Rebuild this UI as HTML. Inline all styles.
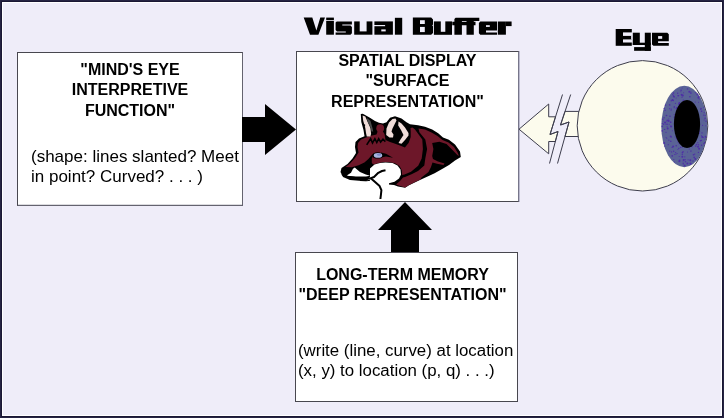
<!DOCTYPE html>
<html><head><meta charset="utf-8">
<style>
html,body{margin:0;padding:0;}
body{width:724px;height:418px;overflow:hidden;position:relative;background:#262443;font-family:"Liberation Sans",sans-serif;}
#frame{position:absolute;left:1px;top:1px;width:722px;height:416px;background:#1a1734;}
#white{position:absolute;left:2px;top:2px;width:720px;height:414px;background:#ffffff;}
#bg{position:absolute;left:3px;top:3px;width:718px;height:412px;background:#efedf9;}
.box{position:absolute;background:#fff;border:1px solid #48474f;box-sizing:border-box;}
.t{position:absolute;white-space:pre;color:#000;line-height:20.3px;will-change:transform;}
.b{font-weight:bold;font-size:16px;text-align:center;line-height:20.3px;}
.r{font-size:17px;line-height:20.3px;}
svg{position:absolute;left:0;top:0;}
</style></head>
<body>
<div id="frame"></div><div id="white"></div><div id="bg"></div>

<div class="box" style="left:17px;top:52px;width:226px;height:154px;border-right-color:#64636f;border-bottom-color:#64636f;box-shadow:0 -0.5px 0 #b8b8c0 inset;"></div>
<div class="box" style="left:296px;top:51px;width:223px;height:151px;border-right-color:#77768a;box-shadow:1px 0 0 #bcbbd0;"></div>
<div class="box" style="left:295px;top:252px;width:223px;height:150px;"></div>

<!-- left box text -->
<div class="t b" style="left:17px;top:60px;width:226px;">"MIND'S EYE
INTERPRETIVE
FUNCTION"</div>
<div class="t r" style="left:31px;top:147px;">(shape: lines slanted? Meet
in point? Curved? . . . )</div>

<!-- center box text -->
<div class="t b" style="left:296px;top:51px;width:223px;">SPATIAL DISPLAY
"SURFACE
REPRESENTATION"</div>

<!-- bottom box text -->
<div class="t b" style="left:291px;top:265px;width:223px;">LONG-TERM MEMORY
"DEEP REPRESENTATION"</div>
<div class="t r" style="left:298px;top:341px;font-size:16.85px;">(write (line, curve) at location
(x, y) to location (p, q) . . .)</div>

<svg width="724" height="418" viewBox="0 0 724 418">
  <!-- right arrow -->
  <polygon points="242,117 265,117 265,104 296,129.5 265,155 265,142 242,142" fill="#000"/>
  <!-- up arrow -->
  <polygon points="405,202 432,230 419,230 419,252 391,252 391,230 378,230" fill="#000"/>

  <!-- cream broken arrow -->
  <g fill="#fcfbed" stroke="#3c3c4c" stroke-width="1" stroke-linejoin="miter">
    <polygon points="519,129.2 548.7,104 548.7,116.8 555.5,116.8 550,134.5 558,131.5 555.3,141.5 548.7,141.5 548.7,153.8"/>
    <polygon points="565,111.4 590,111.4 590,136.5 565,136.5 569,122 560.5,125"/>
  </g>
  <path d="M562.5,94.5 L550,134.5 L558,131.5 L549.5,163.5 M570.7,94.5 L560.5,125 L569,122 L557.5,163.5" fill="none" stroke="#3c3c4c" stroke-width="1"/>
  <!-- eyeball -->
  <ellipse cx="642.5" cy="125.8" rx="65.3" ry="65.2" fill="#fcfbed" stroke="#3c3c4c" stroke-width="1"/>
  <clipPath id="eyeclip"><ellipse cx="642.5" cy="125.8" rx="65.3" ry="65.2"/></clipPath>
  <g clip-path="url(#eyeclip)">
    <ellipse cx="684.3" cy="126.5" rx="23" ry="40.7" fill="#5a6396"/>
    <g fill="#4d26aa" opacity="0.85"><circle cx="676.2" cy="98.1" r="0.5"/><circle cx="664.6" cy="129.4" r="0.7"/><circle cx="688.1" cy="159.8" r="0.6"/><circle cx="663.0" cy="121.1" r="0.5"/><circle cx="672.4" cy="130.7" r="0.5"/><circle cx="671.6" cy="136.9" r="0.5"/><circle cx="700.8" cy="109.4" r="0.6"/><circle cx="666.0" cy="132.3" r="0.6"/><circle cx="670.8" cy="141.2" r="0.8"/><circle cx="703.8" cy="115.2" r="0.6"/><circle cx="697.8" cy="142.7" r="0.6"/><circle cx="665.1" cy="110.2" r="0.8"/><circle cx="701.6" cy="145.2" r="0.7"/><circle cx="689.3" cy="91.8" r="1.0"/><circle cx="680.5" cy="147.4" r="0.6"/><circle cx="704.2" cy="120.1" r="0.5"/><circle cx="701.6" cy="111.3" r="0.7"/><circle cx="682.3" cy="154.2" r="0.7"/><circle cx="664.1" cy="142.9" r="1.0"/><circle cx="674.4" cy="117.2" r="0.7"/><circle cx="662.3" cy="123.4" r="0.6"/><circle cx="671.3" cy="109.2" r="0.6"/><circle cx="679.6" cy="160.4" r="0.8"/><circle cx="665.0" cy="122.4" r="1.0"/><circle cx="674.1" cy="96.9" r="0.8"/><circle cx="701.0" cy="108.5" r="0.8"/><circle cx="678.8" cy="104.6" r="0.5"/><circle cx="669.4" cy="104.7" r="0.6"/><circle cx="669.7" cy="108.7" r="0.6"/><circle cx="687.4" cy="163.4" r="1.0"/><circle cx="705.0" cy="139.1" r="0.5"/><circle cx="682.3" cy="156.7" r="1.0"/><circle cx="666.1" cy="137.4" r="0.5"/><circle cx="681.6" cy="94.7" r="1.0"/><circle cx="701.5" cy="135.8" r="0.6"/><circle cx="690.5" cy="163.6" r="1.0"/><circle cx="678.1" cy="95.8" r="0.8"/><circle cx="683.6" cy="92.8" r="0.5"/><circle cx="695.8" cy="146.1" r="0.8"/><circle cx="699.4" cy="98.9" r="0.5"/><circle cx="677.9" cy="142.0" r="0.5"/><circle cx="690.9" cy="93.2" r="0.7"/><circle cx="685.1" cy="159.7" r="0.7"/><circle cx="671.6" cy="151.9" r="0.6"/><circle cx="698.4" cy="152.4" r="0.6"/><circle cx="670.5" cy="125.9" r="0.5"/><circle cx="698.5" cy="144.7" r="0.7"/><circle cx="705.2" cy="115.5" r="0.6"/><circle cx="666.0" cy="124.1" r="0.7"/><circle cx="670.7" cy="136.6" r="1.0"/><circle cx="691.3" cy="150.9" r="0.5"/><circle cx="679.2" cy="143.7" r="0.6"/><circle cx="683.3" cy="100.3" r="0.7"/><circle cx="695.5" cy="92.7" r="0.6"/><circle cx="698.4" cy="97.7" r="1.0"/><circle cx="685.5" cy="161.8" r="0.8"/><circle cx="671.1" cy="126.6" r="1.0"/><circle cx="695.3" cy="158.9" r="1.0"/><circle cx="684.8" cy="156.8" r="0.6"/><circle cx="689.3" cy="149.0" r="0.6"/><circle cx="669.2" cy="124.3" r="0.5"/><circle cx="697.4" cy="94.4" r="1.0"/><circle cx="682.1" cy="88.1" r="0.5"/><circle cx="704.6" cy="142.7" r="0.7"/><circle cx="670.6" cy="122.2" r="0.8"/><circle cx="666.9" cy="121.8" r="0.5"/><circle cx="671.1" cy="110.4" r="0.5"/><circle cx="705.1" cy="118.2" r="0.8"/><circle cx="668.8" cy="140.2" r="0.6"/><circle cx="668.7" cy="120.9" r="1.0"/><circle cx="677.7" cy="93.3" r="0.7"/><circle cx="662.2" cy="130.9" r="0.8"/><circle cx="673.8" cy="159.5" r="0.6"/><circle cx="673.7" cy="96.3" r="0.8"/><circle cx="700.4" cy="140.8" r="0.7"/><circle cx="676.3" cy="108.5" r="0.6"/><circle cx="680.9" cy="91.7" r="0.5"/><circle cx="690.5" cy="151.1" r="0.5"/><circle cx="673.5" cy="95.7" r="0.5"/><circle cx="703.9" cy="107.6" r="0.6"/><circle cx="673.3" cy="100.5" r="0.7"/><circle cx="670.8" cy="122.1" r="0.6"/><circle cx="673.7" cy="151.2" r="0.7"/><circle cx="684.6" cy="165.4" r="1.0"/><circle cx="683.1" cy="161.9" r="0.5"/><circle cx="675.5" cy="103.3" r="0.6"/><circle cx="677.1" cy="153.5" r="0.6"/><circle cx="664.6" cy="146.1" r="0.7"/><circle cx="681.1" cy="90.3" r="0.8"/><circle cx="701.3" cy="140.4" r="0.7"/><circle cx="671.3" cy="100.7" r="0.7"/><circle cx="673.5" cy="93.1" r="0.8"/><circle cx="675.1" cy="137.1" r="0.5"/><circle cx="694.2" cy="157.4" r="0.8"/><circle cx="696.5" cy="144.5" r="0.8"/><circle cx="668.2" cy="144.7" r="0.6"/><circle cx="702.3" cy="136.9" r="1.0"/><circle cx="667.7" cy="128.4" r="1.0"/><circle cx="687.5" cy="152.0" r="0.5"/><circle cx="699.3" cy="133.3" r="0.6"/><circle cx="690.6" cy="163.9" r="0.8"/><circle cx="699.7" cy="131.3" r="0.5"/><circle cx="698.0" cy="146.7" r="1.0"/><circle cx="683.1" cy="151.7" r="0.7"/><circle cx="672.1" cy="147.4" r="0.6"/><circle cx="690.9" cy="92.1" r="0.6"/><circle cx="676.6" cy="138.8" r="0.7"/><circle cx="689.9" cy="96.7" r="0.8"/><circle cx="682.8" cy="95.4" r="1.0"/><circle cx="682.4" cy="152.5" r="0.8"/><circle cx="666.5" cy="115.5" r="0.8"/><circle cx="702.6" cy="125.4" r="0.5"/><circle cx="678.6" cy="95.6" r="0.7"/><circle cx="703.9" cy="143.8" r="0.7"/><circle cx="679.2" cy="156.6" r="0.5"/><circle cx="674.4" cy="162.0" r="0.6"/><circle cx="706.0" cy="121.3" r="0.7"/><circle cx="670.0" cy="116.2" r="0.8"/><circle cx="690.3" cy="160.2" r="1.0"/><circle cx="682.0" cy="147.1" r="0.7"/><circle cx="683.6" cy="160.0" r="1.0"/><circle cx="667.2" cy="124.2" r="0.7"/><circle cx="674.3" cy="106.6" r="0.7"/><circle cx="666.8" cy="138.2" r="0.5"/><circle cx="682.0" cy="97.2" r="0.6"/><circle cx="672.5" cy="100.0" r="1.0"/><circle cx="665.5" cy="105.3" r="0.7"/><circle cx="698.5" cy="102.3" r="0.5"/><circle cx="664.2" cy="108.4" r="0.7"/><circle cx="667.1" cy="126.8" r="0.6"/><circle cx="667.2" cy="120.4" r="0.8"/><circle cx="705.8" cy="125.7" r="0.5"/><circle cx="679.3" cy="161.2" r="1.0"/><circle cx="672.7" cy="94.7" r="0.6"/><circle cx="693.5" cy="154.7" r="0.8"/><circle cx="687.5" cy="88.9" r="0.7"/><circle cx="705.6" cy="136.8" r="1.0"/><circle cx="679.2" cy="104.0" r="1.0"/><circle cx="675.9" cy="154.1" r="0.6"/><circle cx="662.3" cy="126.4" r="0.8"/><circle cx="674.7" cy="154.6" r="0.5"/><circle cx="675.6" cy="152.5" r="0.6"/><circle cx="702.5" cy="125.3" r="0.5"/><circle cx="679.4" cy="103.1" r="1.0"/><circle cx="664.1" cy="117.8" r="0.7"/><circle cx="704.2" cy="112.6" r="0.6"/><circle cx="694.7" cy="154.1" r="0.7"/><circle cx="681.7" cy="94.7" r="0.5"/><circle cx="674.2" cy="114.4" r="0.5"/><circle cx="678.8" cy="148.4" r="0.7"/><circle cx="663.6" cy="124.3" r="0.7"/><circle cx="676.2" cy="145.8" r="0.8"/><circle cx="662.7" cy="119.2" r="0.8"/><circle cx="673.1" cy="146.6" r="1.0"/><circle cx="676.9" cy="108.0" r="1.0"/><circle cx="693.0" cy="161.0" r="0.7"/><circle cx="703.5" cy="137.4" r="0.5"/><circle cx="683.2" cy="163.7" r="0.8"/><circle cx="698.8" cy="96.6" r="0.8"/><circle cx="669.7" cy="151.1" r="0.7"/><circle cx="699.1" cy="148.7" r="1.0"/><circle cx="672.2" cy="155.9" r="0.8"/><circle cx="677.9" cy="149.5" r="0.5"/><circle cx="668.7" cy="119.0" r="0.5"/><circle cx="668.7" cy="120.5" r="0.5"/><circle cx="692.3" cy="146.7" r="0.5"/><circle cx="674.2" cy="107.6" r="0.7"/><circle cx="695.3" cy="102.0" r="0.6"/><circle cx="669.8" cy="105.0" r="0.7"/><circle cx="702.0" cy="132.9" r="0.7"/></g>
  </g>
  <ellipse cx="687" cy="124" rx="13.1" ry="24" fill="#000"/>

  <!-- fox -->
  <g id="fox">
    <path fill="#000" d="M340.5,172 L341.5,168 L347.5,164 L352.5,158.5 L356,153 L355,147 L355.5,142 L359,138.5 L364.5,136.3 L363.5,130 L361.3,122 L360.8,114 L362.8,113.8 L369.5,117.4 L375,121 L379,122.8 L383,123.4 L386.5,122.2 L390,117.8 L395,116.3 L401.5,118.6 L406.5,122.3 L410,124.3 L418,125.3 L425,126.8 L432.2,129.6 L438.2,133.2 L443,137.4 L448.9,139.8 L455,144.5 L460,151.5 L460.8,157 L455,160.5 L449,165 L443,168.5 L434.6,173.3 L429.8,175.5 L421,179.5 L409,185.2 L405.1,187.8 L398,186.5 L394,185 L388.5,184.5 L380,183 L372,181 L362,181 L350,180 L343,177 Z"/>
    <path fill="#6d1729" d="M345.5,167 L350,163.5 L355,158 L358.5,152.5 L357.5,147 L358,143 L361,139.5 L366,137.5 L372,135.5 L376.5,134.5 L377.6,131.5 L377.6,128.5 L382.9,128.5 L382.9,131.5 L384.5,134 L385.5,140 L390,142 L394.5,143.5 L400,145.5 L404.9,147.4 L408.7,142.7 L410.7,136.9 L410.7,131.2 L410.5,128 L412.5,127.5 L415,129.5 L417,132.2 L422.3,139.4 L422.9,148.9 L421.7,158.5 L418.2,165.7 L411,171.7 L404.5,174.5 L402.2,175.1 L401.8,170.3 L399.5,166 L395,163.2 L389,162 L383,162 L377,163.6 L373.3,164.6 L371.8,163 L371.8,158.5 L372.5,157 L371.8,154.9 L368.4,158.9 L364.4,162.4 L358.6,165.2 L351.7,167.2 Z"/>
    <circle cx="380.2" cy="128.2" r="3.9" fill="#6d1729"/>
    <path fill="#6d1729" d="M418.5,128.5 L425,129.5 L431.5,132.5 L437.5,136 L442.5,140 L448.5,142.5 L454,147 L457.5,152.5 L459,156 L457.3,154.9 L452.5,150.1 L446.5,144.1 L439.4,141.7 L432.2,142.9 L433.4,148.9 L432.2,156.1 L433,159 L438,161.5 L444.5,163.5 L443.5,165 L437,163.8 L432.5,162.5 L431,167 L428.5,172 L421.5,177.5 L420.4,179.4 L415,182 L409,185 L405.1,187.6 L400,186 L396,184.6 L400,181 L403,177.5 L405,177 L411.5,174.2 L418,171 L424.3,165.5 L425.3,158.5 L427.1,148.9 L425.3,139.4 L419.4,132.2 Z"/>
    <path fill="#efdcd8" d="M362.6,115.5 L365.3,116.5 L367.8,122.2 L370.4,128 L371.1,133.7 L370.4,136.4 L366.8,136.4 L366,133 L365.3,128 L363.2,120.8 Z"/>
    <rect x="363.3" y="124.4" width="1.8" height="2" fill="#000"/>
    <path fill="#4a4a4a" d="M366.8,117.9 L370.4,120.8 L372.5,128 L373.2,131.5 L371.6,131.5 L370.4,127 L367.8,122 Z"/>
    <path fill="#efdcd8" d="M386.2,135 L386.5,128.5 L389,122.5 L392.5,119 L395.5,118.5 L396.5,120.5 L394.5,124.5 L392.5,128.5 L391.5,131.5 L393.5,134.5 L393,137.5 L389.5,137.5 Z"/>
    <path fill="#efdcd8" d="M398.5,121.5 L401.5,123.5 L405,127.5 L408.5,133 L408.5,135.5 L405,140 L401.5,143.8 L398.5,143 L400.5,139.5 L403.5,135 L401,130 L398.2,125.5 Z"/>
    <path fill="#fff" d="M346.3,175.8 L351,172.8 L353,168.8 L354.8,167.6 L357,169.5 L360,172 L365.8,174.4 L370,175.8 L366,176.6 L356,176.6 Z"/>
    <path fill="#fff" d="M370,168.5 L374.5,164.5 L380,163 L385.5,162.5 L392.5,163 L397.5,165.5 L400.5,169.5 L401,174.5 L399,178.5 L394.5,181.8 L389,183.3 L389,186 L380,185 L372,182.5 L366,181.5 L370,177 Z"/>
    <path fill="none" stroke="#000" stroke-width="2" stroke-linejoin="round" d="M342,174 L347.6,177 L357.1,178.3 L362.9,179.2 L369.6,178.6 L374,177 L378.3,172.8 L382,171 L385.5,170.3"/>
    <path fill="none" stroke="#000" stroke-width="1" d="M360,180.5 L366,180.8 L370,180.3"/>
    <path fill="none" stroke="#000" stroke-width="2" stroke-linejoin="round" d="M370.5,178 L375.1,182.1 L379.6,186.1 L381.4,190.2 L380.9,195 L380.4,199"/>
    <ellipse cx="377.6" cy="155.4" rx="5.6" ry="3.2" fill="#000"/>
    <path fill="#000" d="M381,152.6 L386,153.8 L393,157.8 L386,156.6 L381,157.6 Z"/>
    <ellipse cx="378" cy="155.4" rx="4.2" ry="2.4" fill="#a9b5e2"/>
    <ellipse cx="379" cy="154.6" rx="2.2" ry="1.2" fill="#7d8cc8"/>
    <path fill="none" stroke="#000" stroke-width="1.6" stroke-linejoin="miter" d="M366.7,144.9 L370.6,138.7 L372.5,143 L374.9,138.7 L376.8,142.5 L378.7,138.7 L380.6,142.1 L383,139.2 L385.4,141.6"/>
  </g>
  <!-- titles -->
  <g id="titles">
  <polygon points="303.7,17.6 312.3,17.6 316.4,30.4 320.3,17.6 325,17.6 318.4,34.7 310,34.7" fill="#000"/>
  <rect x="326.2" y="17.6" width="7.7" height="2.5" fill="#000"/>
  <rect x="326.2" y="20.9" width="7.7" height="13.8" fill="#000"/>
  <polygon points="336.8,21.4 351.9,21.4 351.9,24.4 342.3,24.4 342.3,25.5 350.5,25.5 351.9,26.9 351.9,33.3 350.5,34.7 335.6,34.7 335.6,32.6 345.8,32.6 345.8,31.5 337,31.5 335.6,30.1 335.6,22.6" fill="#000"/>
  <rect x="354.2" y="21.4" width="18.2" height="13.3" fill="#000"/>
  <rect x="359.7" y="20.9" width="6.9" height="10.5" fill="#efedf9"/>
  <rect x="374.4" y="21.4" width="18.5" height="13.3" fill="#000"/>
  <rect x="374" y="25" width="11.1" height="1.2" fill="#efedf9"/>
  <rect x="381.3" y="29.4" width="4.4" height="2.0" fill="#efedf9"/>
  <rect x="394.9" y="17.8" width="7.3" height="16.9" fill="#000"/>
  <polygon points="412.85,17.6 431.2,17.6 433,19.4 433,24.6 432.2,25.4 433,26.2 433,33 431.2,34.8 412.85,34.8" fill="#000"/>
  <rect x="420" y="20.2" width="4.8" height="3.8" fill="#efedf9"/>
  <rect x="420" y="26.9" width="4.8" height="5.2" fill="#efedf9"/>
  <rect x="433.9" y="21.4" width="18.1" height="13.4" fill="#000"/>
  <rect x="440.8" y="20.9" width="4.5" height="10.9" fill="#efedf9"/>
  <polygon points="455.6,17.8 479.3,17.8 479.3,21.0 473.8,21.0 473.8,21.8 475.5,21.8 475.5,25.2 473.8,25.2 473.8,34.7 466.5,34.7 466.5,25.2 461.9,25.2 461.9,34.7 454.4,34.7 454.4,25.2 452.3,25.2 452.3,21.8 454.4,21.8 454.4,19" fill="#000"/>
  <rect x="461.9" y="21.0" width="4.6" height="0.8" fill="#efedf9"/>
  <polygon points="480.3,21.5 497,21.5 497,30.6 486,30.6 486,32.4 497,32.4 497,34.7 480.3,34.7 478.9,33.3 478.9,22.9" fill="#000"/>
  <rect x="486" y="25.2" width="3.8" height="1.7" fill="#efedf9"/>
  <rect x="497.8" y="21.5" width="8.1" height="13.2" fill="#000"/>
  <rect x="505.9" y="21.5" width="5.7" height="4.6" fill="#000"/>
  <rect x="615.7" y="29" width="16.1" height="16.8" fill="#000"/>
  <rect x="623" y="32.4" width="9.2" height="3.5" fill="#efedf9"/>
  <rect x="623" y="39.4" width="9.2" height="3.1" fill="#efedf9"/>
  <rect x="631.2" y="35.9" width="1.0" height="3.5" fill="#efedf9"/>
  <rect x="632.8" y="32.7" width="7.0" height="12.3" fill="#000"/>
  <rect x="644.8" y="32.7" width="6.0" height="18.1" fill="#000"/>
  <rect x="632.8" y="42.7" width="18.0" height="2.3" fill="#000"/>
  <rect x="634.1" y="47.1" width="16.7" height="3.7" fill="#000"/>
  <polygon points="652,32.7 667.3,32.7 668.8,34.3 668.8,41.3 658.1,41.3 658.1,42.9 668.8,42.9 668.8,45.8 653.4,45.8 652,44.4" fill="#000"/>
  <rect x="658.1" y="36.1" width="4.1" height="2.7" fill="#efedf9"/>

  </g>
</svg>


</body></html>
